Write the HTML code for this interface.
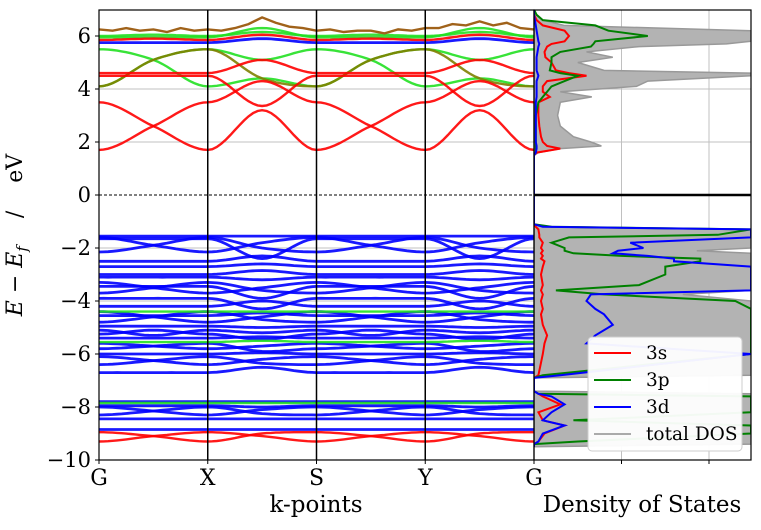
<!DOCTYPE html>
<html><head><meta charset="utf-8">
<style>
body{margin:0;background:#fff;}
svg text{font-family:"DejaVu Serif","Liberation Serif",serif;}
</style></head>
<body>
<svg id="chart" width="761" height="525" viewBox="0 0 761 525" xmlns="http://www.w3.org/2000/svg">
<defs>
<clipPath id="clipL"><rect x="99" y="10" width="435" height="450"/></clipPath>
<clipPath id="clipR"><rect x="534" y="10" width="217" height="450"/></clipPath>
</defs>
<g id="gridL"></g>
<g id="gridR"></g>
<g id="bands" clip-path="url(#clipL)"></g>
<g id="dos" clip-path="url(#clipR)"></g>
<g id="axes"></g>
<text x="22" y="235" font-size="22" text-anchor="middle" transform="rotate(-90 22 235)" style="white-space:pre"><tspan font-style="italic">E</tspan> − <tspan font-style="italic">E</tspan><tspan font-style="italic" font-size="15" dy="5">f</tspan><tspan dy="-5">    /    eV</tspan></text>
<text x="316" y="512" font-size="23" text-anchor="middle">k-points</text>
<text x="642" y="512" font-size="23" text-anchor="middle">Density of States</text>
<g>
<rect x="588" y="337" width="154" height="114" rx="4" fill="#fff" fill-opacity="0.95" stroke="#ccc"/>
<g><line x1="594" y1="353" x2="631" y2="353" stroke="#ff0000" stroke-width="2"/><text x="646" y="359" font-size="18.5">3s</text></g>
<g><line x1="594" y1="380" x2="631" y2="380" stroke="#008000" stroke-width="2"/><text x="646" y="386" font-size="18.5">3p</text></g>
<g><line x1="594" y1="407" x2="631" y2="407" stroke="#0000ff" stroke-width="2"/><text x="646" y="413" font-size="18.5">3d</text></g>
<g><line x1="594" y1="434" x2="631" y2="434" stroke="#aaaaaa" stroke-width="2"/><text x="646" y="440" font-size="18.5">total DOS</text></g>
</g>
</svg>
<script>
// ---- data ----
const kLabels = ["G","X","S","Y","G"];
const yTicks = [6,4,2,0,-2,-4,-6,-8,-10];
// band energies at G, G-X mid, X, X-S mid, S, S-Y mid, Y, Y-G mid, G
const redBands = [
 [1.7,2.6,3.5,4.3,3.5,2.6,1.7,3.2,1.7],
 [3.5,2.6,1.7,3.2,1.7,2.6,3.5,4.3,3.5],
 [4.5,4.5,4.5,3.36,4.5,4.5,4.5,3.36,4.5],
 [4.6,4.6,4.6,5.1,4.6,4.6,4.6,5.1,4.6],
 [5.85,5.9,5.85,6.05,5.85,5.9,5.85,6.05,5.85],
 [-9.3,-9.1,-8.95,-9.1,-9.3,-9.1,-8.95,-9.1,-9.3],
 [-8.95,-9.1,-9.3,-9.0,-8.95,-9.1,-9.3,-9.0,-8.95]
];
const greenBands = [
 [4.1,5.1,5.5,5.1,5.5,5.1,4.1,4.4,4.1],
 [5.5,5.1,4.1,4.4,4.1,5.1,5.5,5.1,5.5],
 [5.95,5.95,5.95,6.3,5.95,5.95,5.95,6.3,5.95],
 [6.0,6.05,6.0,6.15,6.0,6.05,6.0,6.15,6.0],
 [-4.4,-4.4,-4.4,-4.4,-4.4,-4.4,-4.4,-4.4,-4.4],
 [-5.55,-5.55,-5.55,-5.5,-5.55,-5.55,-5.55,-5.5,-5.55],
 [-7.85,-7.85,-7.85,-7.85,-7.85,-7.85,-7.85,-7.85,-7.85]
];
const oliveBands = [
 [4.1,5.1,5.5,4.4,4.1,5.1,5.5,4.4,4.1]
];
const blueBands = [
 [5.75,5.75,5.75,5.9,5.75,5.75,5.75,5.9,5.75],
 [-1.55,-1.55,-1.55,-1.55,-1.55,-1.55,-1.55,-1.55,-1.55],
 [-1.6,-1.9,-2.15,-1.8,-1.6,-1.9,-2.15,-1.8,-1.6],
 [-2.15,-1.9,-1.6,-2.0,-2.15,-1.9,-1.6,-2.0,-2.15],
 [-1.65,-1.65,-1.65,-2.4,-1.65,-1.65,-1.65,-2.4,-1.65],
 [-2.5,-2.5,-2.5,-2.3,-2.5,-2.5,-2.5,-2.3,-2.5],
 [-2.7,-2.7,-2.7,-2.6,-2.7,-2.7,-2.7,-2.6,-2.7],
 [-3.0,-3.0,-3.0,-2.85,-3.0,-3.0,-3.0,-2.85,-3.0],
 [-3.1,-3.1,-3.1,-3.2,-3.1,-3.1,-3.1,-3.2,-3.1],
 [-3.3,-3.5,-3.7,-3.5,-3.3,-3.5,-3.7,-3.5,-3.3],
 [-3.7,-3.5,-3.3,-3.6,-3.7,-3.5,-3.3,-3.6,-3.7],
 [-3.45,-3.45,-3.45,-3.9,-3.45,-3.45,-3.45,-3.9,-3.45],
 [-3.9,-3.9,-3.9,-4.3,-3.9,-3.9,-3.9,-4.3,-3.9],
 [-4.2,-4.2,-4.2,-4.0,-4.2,-4.2,-4.2,-4.0,-4.2],
 [-4.4,-4.6,-4.8,-4.6,-4.4,-4.6,-4.8,-4.6,-4.4],
 [-4.8,-4.6,-4.4,-4.7,-4.8,-4.6,-4.4,-4.7,-4.8],
 [-4.55,-4.55,-4.55,-4.45,-4.55,-4.55,-4.55,-4.45,-4.55],
 [-4.95,-4.95,-4.95,-5.0,-4.95,-4.95,-4.95,-5.0,-4.95],
 [-5.1,-5.3,-5.1,-5.2,-5.1,-5.3,-5.1,-5.2,-5.1],
 [-5.25,-5.1,-5.25,-5.45,-5.25,-5.1,-5.25,-5.45,-5.25],
 [-5.4,-5.4,-5.4,-5.35,-5.4,-5.4,-5.4,-5.35,-5.4],
 [-5.6,-5.7,-5.8,-5.7,-5.6,-5.7,-5.8,-5.7,-5.6],
 [-5.8,-5.7,-5.6,-5.9,-5.8,-5.7,-5.6,-5.9,-5.8],
 [-6.0,-6.0,-6.0,-5.95,-6.0,-6.0,-6.0,-5.95,-6.0],
 [-6.1,-6.25,-6.4,-6.2,-6.1,-6.25,-6.4,-6.2,-6.1],
 [-6.4,-6.25,-6.1,-6.35,-6.4,-6.25,-6.1,-6.35,-6.4],
 [-6.7,-6.7,-6.7,-6.5,-6.7,-6.7,-6.7,-6.5,-6.7],
 [-7.8,-7.8,-7.8,-7.8,-7.8,-7.8,-7.8,-7.8,-7.8],
 [-7.95,-7.95,-7.95,-8.0,-7.95,-7.95,-7.95,-8.0,-7.95],
 [-8.0,-8.15,-8.3,-8.1,-8.0,-8.15,-8.3,-8.1,-8.0],
 [-8.3,-8.15,-8.0,-8.25,-8.3,-8.15,-8.0,-8.25,-8.3],
 [-8.45,-8.45,-8.45,-8.45,-8.45,-8.45,-8.45,-8.45,-8.45],
 [-8.85,-8.85,-8.85,-8.85,-8.85,-8.85,-8.85,-8.85,-8.85]
];
const brownBand = [6.25,6.2,6.3,6.2,6.25,6.15,6.3,6.2,6.25,6.2,6.3,6.45,6.7,6.5,6.35,6.3,6.2,6.25,6.15,6.2,6.2,6.1,6.25,6.2,6.3,6.3,6.45,6.4,6.55,6.4,6.5,6.3,6.25];
// DOS
const dosE     = [-9.5,-9.4,-9.3,-9.0,-8.7,-8.5,-8.2,-7.9,-7.6,-7.5,-7.4,-7.0,-6.9,-6.8,-6.0,-5.6,-5.3,-4.9,-4.5,-4.3,-4.0,-3.75,-3.6,-3.4,-3.0,-2.7,-2.5,-2.4,-2.3,-2.2,-2.1,-2.0,-1.8,-1.6,-1.5,-1.3,-1.2,-1.1,1.5,1.6,1.75,1.85,2.0,2.2,2.6,3.0,3.5,3.7,3.9,4.1,4.3,4.5,4.6,4.7,5.0,5.2,5.4,5.6,5.7,5.8,6.0,6.2,6.4,6.6,6.8,7.0];
const dosTotal = [0,2.48,2.48,2.48,2.48,2.48,2.48,2.48,2.48,2.48,0,0,0,2.48,2.48,2.48,2.48,2.48,2.48,2.48,2.48,1.7,2.48,2.48,2.48,2.48,2.48,2.48,2.48,2.48,1.86,2.48,2.48,2.48,2.48,2.48,0.1,0,0,0.05,0.3,0.77,0.65,0.45,0.3,0.27,0.3,0.66,0.3,1.17,1.3,2.48,2.48,0.8,0.5,0.9,0.6,1.2,2.2,2.48,2.48,2.48,0.34,0.1,0.02,0];
const dosS     = [0,0,0.05,0.12,0.35,0.1,0.05,0.3,0.1,0.05,0,0,0,0.05,0.1,0.12,0.15,0.1,0.08,0.1,0.08,0.1,0.08,0.1,0.08,0.1,0.12,0.08,0.1,0.08,0.1,0.08,0.1,0.06,0.06,0.05,0.02,0,0,0.03,0.3,0.15,0.1,0.08,0.06,0.05,0.05,0.18,0.1,0.1,0.15,0.6,0.4,0.25,0.2,0.13,0.12,0.15,0.2,0.35,0.4,0.35,0.1,0.03,0,0];
const dosP     = [0,0,0.5,2.48,2.48,0.45,2.48,2.48,2.48,0.05,0,0,0,0.1,2.48,2.48,2.48,2.48,2.48,2.48,2.3,0.8,0.25,1.2,1.5,1.5,1.9,1.9,1.0,0.45,0.35,0.35,0.2,0.4,2.1,2.48,0.2,0,0,0.02,0.02,0.02,0.02,0.02,0.02,0.02,0.05,0.1,0.15,0.2,0.35,0.5,0.3,0.18,0.2,0.2,0.3,0.65,0.68,0.7,1.3,0.85,0.7,0.1,0.03,0];
const dosD     = [0,0,0.05,0.1,0.35,0.1,0.2,0.35,0.2,0.05,0,0,0,0.3,2.48,0.6,0.7,0.9,0.8,0.7,0.6,0.65,2.48,2.48,2.48,2.48,1.6,1.6,1.3,0.9,0.96,1.25,1.1,2.48,2.48,2.48,0.1,0,0,0.02,0.03,0.03,0.02,0.02,0.02,0.02,0.02,0.03,0.03,0.03,0.03,0.05,0.04,0.03,0.03,0.03,0.04,0.05,0.06,0.05,0.04,0.03,0.02,0.01,0,0];

// ---- scales ----
const NS="http://www.w3.org/2000/svg";
const xK = t => 99 + t*(534-99)/4;
const yE = e => 195 - e*26.5;
const xD = v => 534 + v*87.5;
function mk(tag, attrs, parent){const el=document.createElementNS(NS,tag);for(const k in attrs)el.setAttribute(k,attrs[k]);parent.appendChild(el);return el;}

const gridL=document.getElementById('gridL'), gridR=document.getElementById('gridR'), axes=document.getElementById('axes');
yTicks.forEach(t=>{
  if(t!==0 && t!==-10){
    const l1=mk('line',{x1:99,x2:534,y1:yE(t),y2:yE(t),stroke:'#c0c0c0','stroke-width':1},gridL);
    
    
    const l2=mk('line',{x1:534,x2:751,y1:yE(t),y2:yE(t),stroke:'#c0c0c0','stroke-width':1},gridR);
    
    
  }
  const tk=mk('line',{x1:95,x2:99,y1:yE(t),y2:yE(t),stroke:'#000'},axes);
  
  
  const tx=mk('text',{x:91,y:yE(t)+7,'font-size':21,'text-anchor':'end'},axes);
  tx.textContent=(t<0?'\u2212'+(-t):''+t);
  
  
});
[1,2].forEach(v=>{
  const l=mk('line',{x1:xD(v),x2:xD(v),y1:10,y2:460,stroke:'#c0c0c0'},gridR);
  
  
  const tk=mk('line',{x1:xD(v),x2:xD(v),y1:460,y2:464,stroke:'#000'},axes);
  
  
});
const fd=mk('line',{x1:99,x2:534,y1:yE(0),y2:yE(0),stroke:'#000','stroke-width':1,'stroke-dasharray':'3,2'},gridL);



// bands
const bandsG=document.getElementById('bands');
function hermitePath(vals){
  const n=vals.length-1, pts=[];
  const slope=i=> (i%2===0)?0:(vals[i+1]-vals[i-1])/2;
  for(let i=0;i<n;i++){
    const p0=vals[i],p1=vals[i+1],m0=slope(i),m1=slope(i+1);
    for(let s=0;s<12;s++){
      const t=s/12,t2=t*t,t3=t2*t;
      const v=(2*t3-3*t2+1)*p0+(t3-2*t2+t)*m0+(-2*t3+3*t2)*p1+(t3-t2)*m1;
      pts.push([xK((i+t)*4/n),yE(v)]);
    }
  }
  pts.push([xK(4),yE(vals[n])]);
  return 'M'+pts.map(p=>p[0].toFixed(1)+','+p[1].toFixed(1)).join('L');
}
function drawSet(set,color,name,w){
  set.forEach(vals=>{
    const p=mk('path',{d:hermitePath(vals),fill:'none',stroke:color,'stroke-width':w,'stroke-opacity':0.9},bandsG);
    
    
  });
}
drawSet(blueBands,'#0000ff','band-3d',2.8);
drawSet(greenBands,'#22e022','band-3p',2.4);
drawSet(oliveBands,'#808000','band-mixed',2.4);
drawSet(redBands,'#ff0000','band-3s',2.4);
{
  const n=brownBand.length-1;
  const d='M'+brownBand.map((v,i)=>xK(i*4/n).toFixed(1)+','+yE(v).toFixed(1)).join('L');
  const p=mk('path',{d:d,fill:'none',stroke:'#a0621a','stroke-width':2.4},bandsG);
  
  
}
// DOS
const dosG=document.getElementById('dos');
function dosPts(arr){return dosE.map((e,i)=>xD(arr[i]).toFixed(1)+','+yE(e).toFixed(1));}
{
  const pts=dosPts(dosTotal);
  const poly=mk('polygon',{points:xD(0)+','+yE(dosE[0])+' '+pts.join(' ')+' '+xD(0)+','+yE(dosE[dosE.length-1]),fill:'#b3b3b3',stroke:'#999','stroke-width':1.5},dosG);
  
  
}
[[dosS,'#ff0000','dos-3s'],[dosP,'#008000','dos-3p'],[dosD,'#0000ff','dos-3d']].forEach(([a,c,n])=>{
  const pl=mk('polyline',{points:dosPts(a).join(' '),fill:'none',stroke:c,'stroke-width':2},dosG);
  
  
});
// axes frames
[1,2,3].forEach(i=>{
  const l=mk('line',{x1:xK(i),x2:xK(i),y1:10,y2:460,stroke:'#000','stroke-width':1.5},axes);
  
  
});
kLabels.forEach((lab,i)=>{
  const tk=mk('line',{x1:xK(i),x2:xK(i),y1:460,y2:464,stroke:'#000'},axes);
  
  
  const t=mk('text',{x:xK(i),y:485,'font-size':22,'text-anchor':'middle'},axes);
  t.textContent=lab;
  
  
});
const fl=mk('rect',{x:99,y:10,width:435,height:450,fill:'none',stroke:'#000','stroke-width':1.2},axes);


const fr=mk('rect',{x:534,y:10,width:217,height:450,fill:'none',stroke:'#000','stroke-width':1.2},axes);


const z=mk('line',{x1:534,x2:751,y1:yE(0),y2:yE(0),stroke:'#000','stroke-width':2.5},axes);


</script>
</body></html>
